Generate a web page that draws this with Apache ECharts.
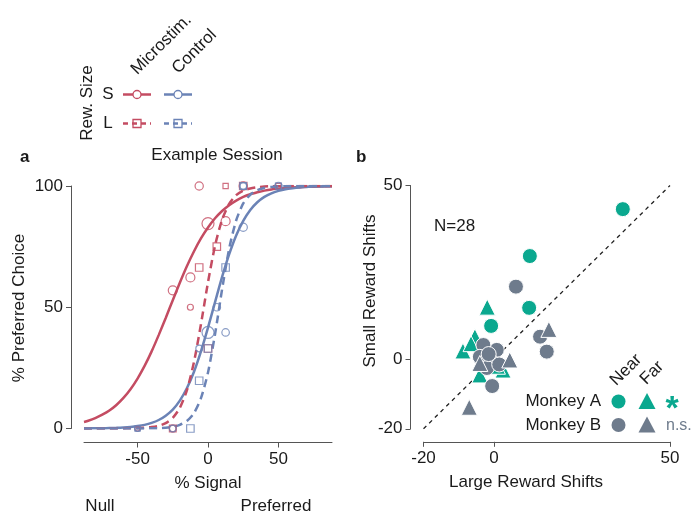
<!DOCTYPE html>
<html>
<head>
<meta charset="utf-8">
<script src="https://cdn.jsdelivr.net/npm/echarts@6/dist/echarts.min.js"></script>
<style>
  html, body { margin: 0; padding: 0; background: #fff; }
  #chart { width: 694px; height: 512px; }
</style>
</head>
<body>
<div id="chart"></div>
<script>
// ---------- Panel a: psychometric curves of one example session ----------
// Fitted curves, sampled along % signal
const fitX = [-88, -85, -80, -75, -70, -65, -60, -55, -50, -45, -40, -35, -30, -25, -20, -15, -10, -5,
              0, 5, 10, 15, 20, 25, 30, 35, 40, 45, 50, 55, 60, 65, 70, 75, 80, 85, 88];
const microS_fitY = [2.7, 3.2, 4.3, 5.7, 7.4, 9.7, 12.6, 16.2, 20.6, 25.8, 31.8, 38.5, 45.6, 52.9, 60.1, 66.9, 73.0, 78.4,
                     82.9, 86.7, 89.7, 92.1, 94.0, 95.5, 96.6, 97.4, 98.1, 98.6, 98.9, 99.2, 99.4, 99.5, 99.7, 99.7, 99.8, 99.9, 99.9];
const controlS_fitY = [0.04, 0.05, 0.08, 0.12, 0.19, 0.28, 0.43, 0.66, 1.0, 1.5, 2.3, 3.5, 5.3, 7.8, 11.5, 16.6, 23.3, 31.8,
                       41.6, 52.1, 62.5, 71.8, 79.6, 85.6, 90.1, 93.3, 95.5, 97.0, 98.0, 98.7, 99.1, 99.4, 99.6, 99.8, 99.8, 99.9, 99.9];
const microL_fitY = [0, 0, 0, 0, 0, 0.02, 0.04, 0.07, 0.14, 0.3, 0.6, 1.1, 2.2, 4.4, 8.5, 15.7, 27.3, 43.0,
                     60.3, 75.4, 86.1, 92.6, 96.2, 98.1, 99.0, 99.5, 99.8, 99.9, 99.9, 100, 100, 100, 100, 100, 100, 100, 100];
const controlL_fitY = [0, 0, 0, 0, 0, 0, 0, 0.01, 0.02, 0.04, 0.07, 0.16, 0.33, 0.7, 1.5, 3.1, 6.3, 12.5,
                       23.1, 38.9, 57.4, 74.1, 85.8, 92.8, 96.4, 98.3, 99.2, 99.6, 99.8, 99.9, 100, 100, 100, 100, 100, 100, 100];

// Observed choice proportions, with trial counts per signal level
const microS_x = [-50, -25, -25, -12.5, -12.5, -6.25, 0, 12.5, 25];
const microS_y = [0, 0, 57, 62.3, 50, 100, 84.5, 85.5, 100];
const microS_n = [3, 5, 8, 8, 4, 7, 12, 8, 7];
const microL_x = [-25, -6.25, 0, 6.25, 12.5, 25, 50];
const microL_y = [0, 66.4, 33, 75, 100, 100, 100];
const microL_n = [5, 6, 6, 6, 3, 6, 3];
const controlS_x = [-50, -25, -6.25, 0, 6.25, 12.5, 25, 25, 50];
const controlS_y = [0, 0, 33, 39.6, 50, 39.6, 83, 100, 100];
const controlS_n = [4, 5, 5, 12, 6, 6, 7, 5, 6];
const controlL_x = [-50, -12.5, -6.25, 0, 12.5, 25, 50];
const controlL_y = [0, 0, 19.7, 33, 66.4, 100, 100];
const controlL_n = [3, 6, 6, 6, 6, 5, 4];

const signalTicks = [-50, 0, 50];
const choiceTicks = [0, 50, 100];

// ---------- Panel b: reward shifts per session ----------
const monkeyA_near_x = [36.6, 10.2, 10.0, -0.8, -2.5, -3.5];
const monkeyA_near_y = [43.2, 29.7, 14.8, 9.6, -2.5, 1.0];
const monkeyA_far_x = [-1.9, -8.8, -5.4, 2.6, -4.0, -6.5, 1.0];
const monkeyA_far_y = [15.0, 2.4, 6.5, -3.1, -4.5, 4.5, -2.0];
const monkeyB_near_x = [6.25, 13.1, 15.0, 0.8, -3.0, -4.0, -0.7, -0.5, -2.0, 1.5, -1.5];
const monkeyB_near_y = [20.9, 6.5, 2.2, 2.7, 4.1, 0.7, -0.7, -7.7, -2.5, -1.5, 1.5];
const monkeyB_far_x = [15.6, -4.0, 4.5, -7.0];
const monkeyB_far_y = [8.6, -1.2, -0.2, -13.8];
const identityX = [-20, 50];
const identityY = [-20, 50];
const shiftTicks = [-20, 0, 50];

// ---------- styling ----------
const RED = '#c44c62';
const BLUE = '#6b83b6';
const TEAL = '#0aa88f';
const GRAY = '#6e7b8c';
const FONT = '"Liberation Sans", Arial, Helvetica, sans-serif';
const FS = 17;
const TXT = '#1a1a1a';
const AX = '#555';

const zip = (xs, ys) => xs.map((x, i) => [x, ys[i]]);
const sized = (xs, ys, ns) => xs.map((x, i) => ({ value: [x, ys[i]], symbolSize: 3 + ns[i] * 0.75 }));

function axisCommon(ticks) {
  return {
    axisLine: { show: true, onZero: false, lineStyle: { color: AX, width: 1 } },
    axisTick: { show: true, length: 5, inside: false, customValues: ticks, lineStyle: { color: AX } },
    axisLabel: { customValues: ticks, color: TXT, fontSize: FS, fontFamily: FONT, margin: 8 },
    splitLine: { show: false }
  };
}

function fitLine(name, ys, color, dashed) {
  return {
    name, type: 'line', xAxisIndex: 0, yAxisIndex: 0,
    data: zip(fitX, ys), smooth: 0.25, showSymbol: false,
    lineStyle: { color, width: 2.5, type: dashed ? [8, 5] : 'solid' },
    z: 3, silent: true
  };
}

function obs(name, xs, ys, ns, color, symbol) {
  return {
    name, type: 'scatter', xAxisIndex: 0, yAxisIndex: 0,
    data: sized(xs, ys, ns), symbol,
    itemStyle: { color: 'rgba(255,255,255,0)', borderColor: color, borderWidth: 1.2 },
    z: 4
  };
}

function pts(name, xs, ys, color, symbol, size) {
  return {
    name, type: 'scatter', xAxisIndex: 1, yAxisIndex: 1,
    data: zip(xs, ys), symbol, symbolSize: size,
    itemStyle: { color, borderColor: '#fff', borderWidth: 1, opacity: 1 },
    z: 5
  };
}

const chart = echarts.init(document.getElementById('chart'), null, { renderer: 'canvas' });

const txt = (text, x, y, opt = {}) => ({
  type: 'text', x, y, rotation: opt.rotation || 0,
  style: {
    text, fill: opt.color || TXT, fontSize: opt.size || FS, fontFamily: FONT,
    fontWeight: opt.weight || 'normal',
    align: opt.align || 'center', verticalAlign: opt.valign || 'middle'
  }
});

const graphics = [
  // panel letters and titles
  txt('a', 20, 157, { weight: 'bold', align: 'left' }),
  txt('b', 356, 157, { weight: 'bold', align: 'left' }),
  txt('Example Session', 217, 155),
  txt('% Preferred Choice', 19, 308, { rotation: Math.PI / 2 }),
  txt('% Signal', 208, 483),
  txt('Null', 100, 506),
  txt('Preferred', 276, 506),
  txt('Small Reward Shifts', 370, 291, { rotation: Math.PI / 2 }),
  txt('Large Reward Shifts', 526, 482),
  txt('N=28', 434, 226, { align: 'left' }),

  // legend for panel a
  txt('Rew. Size', 87, 103, { rotation: Math.PI / 2 }),
  txt('S', 108, 94.5),
  txt('L', 108, 123.5),
  txt('Microstim.', 134, 72, { rotation: Math.PI / 4, align: 'left' }),
  txt('Control', 175, 71, { rotation: Math.PI / 4, align: 'left' }),
  { type: 'line', shape: { x1: 123, y1: 94.5, x2: 151, y2: 94.5 }, style: { stroke: RED, lineWidth: 2.5 } },
  { type: 'circle', shape: { cx: 137, cy: 94.5, r: 4 }, style: { stroke: RED, fill: '#fff', lineWidth: 1.3 } },
  { type: 'line', shape: { x1: 164, y1: 94.5, x2: 192, y2: 94.5 }, style: { stroke: BLUE, lineWidth: 2.5 } },
  { type: 'circle', shape: { cx: 178, cy: 94.5, r: 4 }, style: { stroke: BLUE, fill: '#fff', lineWidth: 1.3 } },
  { type: 'line', shape: { x1: 123, y1: 123.5, x2: 151, y2: 123.5 }, style: { stroke: RED, lineWidth: 2.5, lineDash: [5, 4] } },
  { type: 'rect', shape: { x: 133, y: 119.5, width: 8, height: 8 }, style: { stroke: RED, fill: 'none', lineWidth: 1.3 } },
  { type: 'line', shape: { x1: 164, y1: 123.5, x2: 192, y2: 123.5 }, style: { stroke: BLUE, lineWidth: 2.5, lineDash: [5, 4] } },
  { type: 'rect', shape: { x: 174, y: 119.5, width: 8, height: 8 }, style: { stroke: BLUE, fill: 'none', lineWidth: 1.3 } },

  // legend for panel b
  txt('Near', 613, 383, { rotation: Math.PI / 4, align: 'left' }),
  txt('Far', 643, 382, { rotation: Math.PI / 4, align: 'left' }),
  txt('Monkey A', 601, 401.5, { align: 'right' }),
  txt('Monkey B', 601, 425, { align: 'right' }),
  { type: 'circle', shape: { cx: 618.5, cy: 401.5, r: 7 }, style: { fill: TEAL } },
  { type: 'polygon', shape: { points: [[647, 393], [655.5, 409], [638.5, 409]] }, style: { fill: TEAL } },
  txt('*', 672, 410, { color: TEAL, size: 34, weight: 'bold' }),
  { type: 'circle', shape: { cx: 618.5, cy: 425, r: 7 }, style: { fill: GRAY } },
  { type: 'polygon', shape: { points: [[647, 416.5], [655.5, 432.5], [638.5, 432.5]] }, style: { fill: GRAY } },
  txt('n.s.', 666, 426, { color: GRAY, size: 16, align: 'left' })
];

const option = {
  animation: false,
  backgroundColor: '#fff',
  grid: [
    { left: 84, top: 186, width: 248, height: 242.5, outerBoundsMode: 'none', containLabel: false },
    { left: 423.5, top: 185.5, width: 246.5, height: 243.3, outerBoundsMode: 'none', containLabel: false }
  ],
  xAxis: [
    Object.assign({ type: 'value', gridIndex: 0, min: -88, max: 88, offset: 14 }, axisCommon(signalTicks)),
    Object.assign({ type: 'value', gridIndex: 1, min: -20, max: 50, offset: 13 }, axisCommon(shiftTicks))
  ],
  yAxis: [
    Object.assign({ type: 'value', gridIndex: 0, min: 0, max: 100, offset: 13 }, axisCommon(choiceTicks)),
    Object.assign({ type: 'value', gridIndex: 1, min: -20, max: 50, offset: 13 }, axisCommon(shiftTicks))
  ],
  series: [
    fitLine('Microstim S fit', microS_fitY, RED, false),
    fitLine('Control S fit', controlS_fitY, BLUE, false),
    fitLine('Microstim L fit', microL_fitY, RED, true),
    fitLine('Control L fit', controlL_fitY, BLUE, true),
    obs('Microstim S', microS_x, microS_y, microS_n, RED, 'circle'),
    obs('Microstim L', microL_x, microL_y, microL_n, RED, 'rect'),
    obs('Control S', controlS_x, controlS_y, controlS_n, BLUE, 'circle'),
    obs('Control L', controlL_x, controlL_y, controlL_n, BLUE, 'rect'),
    {
      name: 'Unity', type: 'line', xAxisIndex: 1, yAxisIndex: 1,
      data: zip(identityX, identityY), showSymbol: false, silent: true,
      lineStyle: { color: '#222', width: 1.3, type: [4, 4] }, z: 2
    },
    pts('Monkey A Near', monkeyA_near_x, monkeyA_near_y, TEAL, 'circle', 15),
    pts('Monkey A Far', monkeyA_far_x, monkeyA_far_y, TEAL, 'triangle', 16),
    pts('Monkey B Near', monkeyB_near_x, monkeyB_near_y, GRAY, 'circle', 15),
    pts('Monkey B Far', monkeyB_far_x, monkeyB_far_y, GRAY, 'triangle', 16)
  ],
  graphic: graphics
};

chart.setOption(option);
</script>
</body>
</html>
